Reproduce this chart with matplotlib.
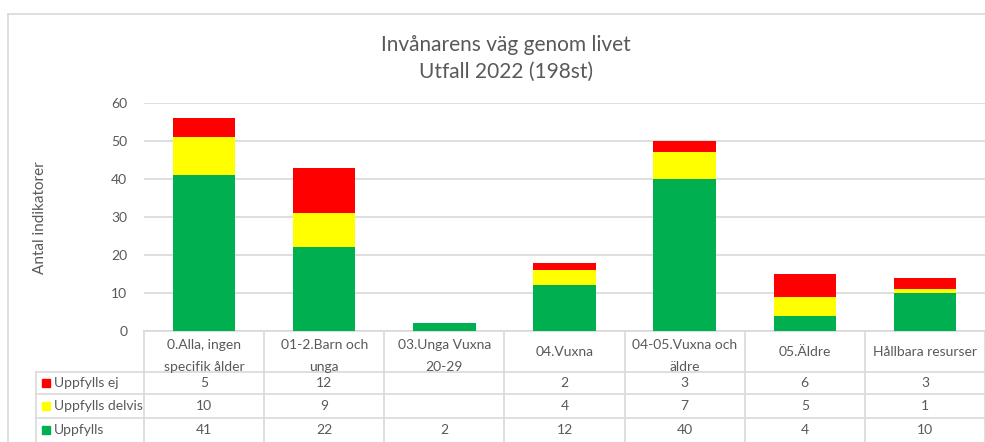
import matplotlib.pyplot as plt
import matplotlib.transforms as mtransforms
from matplotlib.patches import Rectangle

plt.rcParams['font.family'] = ['Lato', 'DejaVu Sans']

categories = ['0.Alla, ingen\nspecifik ålder', '01-2.Barn och\nunga', '03.Unga Vuxna\n20-29',
              '04.Vuxna', '04-05.Vuxna och\näldre', '05.Äldre', 'Hållbara resurser']
uppfylls = [41, 22, 2, 12, 40, 4, 10]
delvis = [10, 9, 0, 4, 7, 5, 1]
ej = [5, 12, 0, 2, 3, 6, 3]
series_names = ['Uppfylls ej', 'Uppfylls delvis', 'Uppfylls']
yticks = [0, 10, 20, 30, 40, 50, 60]

GREEN = '#00B050'
YELLOW = '#FFFF00'
RED = '#FF0000'
GRID = '#D9D9D9'
TXT = '#595959'

W, H = 985, 442
fig = plt.figure(figsize=(W / 100, H / 100), dpi=100)

# overlay in pixel coords for frame and table
ov = fig.add_axes([0, 0, 1, 1])
ov.set_xlim(0, W)
ov.set_ylim(H, 0)
ov.axis('off')

# chart frame
ov.plot([8, 8], [14, H], color=GRID, lw=1.2)
ov.plot([8, W], [14, 14], color=GRID, lw=1.2)

# bar axes
left, right, top, bot = 144, 985, 103, 331
ax = fig.add_axes([left / W, 1 - bot / H, (right - left) / W, (bot - top) / H])
x = list(range(len(categories)))
bw = 0.52
b1 = [u + d for u, d in zip(uppfylls, delvis)]
ax.bar(x, uppfylls, bw, color=GREEN, zorder=3)
ax.bar(x, delvis, bw, bottom=uppfylls, color=YELLOW, zorder=3)
ax.bar(x, ej, bw, bottom=b1, color=RED, zorder=3)
ax.set_xlim(-0.5, len(categories) - 0.5)
ax.set_ylim(0, 60)
ax.set_yticks(yticks)
ax.set_xticks([])
ax.grid(axis='y', color=GRID, lw=1.2, zorder=0)
for s in ['top', 'right', 'left']:
    ax.spines[s].set_visible(False)
ax.spines['bottom'].set_color(GRID)
ax.spines['bottom'].set_linewidth(1.2)
ax.tick_params(axis='y', length=0, pad=12, labelsize=10, labelcolor=TXT)
ax.patch.set_alpha(0)

ov.text(40, 218, 'Antal indikatorer', rotation=90, ha='center', va='center',
        fontsize=11, color=TXT)

fig.text(506 / W, 1 - 45 / H, 'Invånarens väg genom livet', ha='center', va='center',
         fontsize=15, color=TXT)
fig.text(506 / W, 1 - 72 / H, 'Utfall 2022 (198st)', ha='center', va='center',
         fontsize=15, color=TXT)

# data table
tr = mtransforms.blended_transform_factory(ax.transData, ov.transData)
row_lines = [372, 394, 418]
row_centers = [383, 406, 430]
for k in range(len(categories) + 1):
    ov.plot([k - 0.5, k - 0.5], [bot, H], color=GRID, lw=1.2, transform=tr)
for yl in row_lines:
    ov.plot([36, W], [yl, yl], color=GRID, lw=1.2)
ov.plot([36, 36], [372, H], color=GRID, lw=1.2)

# header cells cut the wrapped second line, as in the source
clip = Rectangle((left, bot), right - left, 370 - bot, transform=ov.transData,
                 facecolor='none', edgecolor='none')
ov.add_patch(clip)
for i, cat in enumerate(categories):
    lines = cat.split('\n')
    if len(lines) == 1:
        t = ov.text(i, 352, lines[0], ha='center', va='center', fontsize=10,
                    color=TXT, transform=tr)
        t.set_clip_path(clip)
    else:
        for ln, yy in zip(lines, [345, 367]):
            t = ov.text(i, yy, ln, ha='center', va='center', fontsize=10,
                        color=TXT, transform=tr)
            t.set_clip_path(clip)

rows = [ej, delvis, uppfylls]
colors = [RED, YELLOW, GREEN]
for name, vals, col, yc in zip(series_names, rows, colors, row_centers):
    ov.add_patch(Rectangle((42, yc - 4), 8, 8, color=col))
    ov.text(54, yc, name, ha='left', va='center', fontsize=10, color=TXT)
    for i, v in enumerate(vals):
        if v:
            ov.text(i, yc, str(v), ha='center', va='center', fontsize=10,
                    color=TXT, transform=tr)

fig.savefig('out.png', dpi=100)
